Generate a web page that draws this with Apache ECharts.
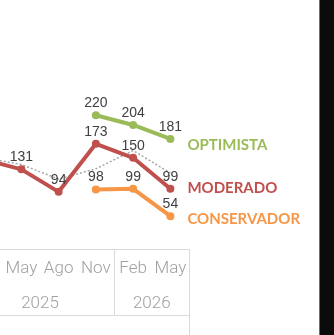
<!DOCTYPE html>
<html>
<head>
<meta charset="utf-8">
<script src="https://cdn.jsdelivr.net/npm/echarts@6/dist/echarts.min.js"></script>
<style>
html,body{margin:0;padding:0;background:#fff;}
#c{position:absolute;left:0;top:0;width:334px;height:335px;}
#band{position:absolute;left:319px;top:0;width:15px;height:335px;background:#0b0b0b;border-left:1px solid #6e6e6e;box-sizing:border-box;}
</style>
</head>
<body>
<div id="c"></div>
<div id="band"></div>
<script>
// Categories (quarterly) – first one lies off-canvas to the left
const months = ['Feb', 'May', 'Ago', 'Nov', 'Feb', 'May'];
const years = ['2025', '2026'];
const yearSizes = [4, 2];

// Series values
const moderado    = [147, 131, 94, 173, 150, 99];
const optimista   = [null, null, null, 220, 204, 181];
const conservador = [null, null, null, 98, 99, 54];
const referencia  = [150, 139, 115, 132, 162, 125];

// Build group boundaries / centres for the year level of the axis
const bounds = [0];
yearSizes.forEach(s => bounds.push(bounds[bounds.length - 1] + s));
const centres = yearSizes.map((s, i) => bounds[i] + s / 2);
const yearOf = {};
centres.forEach((c, i) => { yearOf[c] = years[i]; });

const labelFont = {fontFamily: 'Roboto', fontWeight: 300, fontSize: 17, color: '#a0a0a0'};
const gridLine = {color: '#d9d9d9', width: 1};

function lineSeries(name, data, color, dy) {
  return {
    name: name, type: 'line', data: data, xAxisIndex: 0, yAxisIndex: 0,
    symbol: 'circle', symbolSize: 8, showSymbol: true,
    lineStyle: {color: color, width: 4},
    itemStyle: {color: color},
    label: {show: true, position: 'top', distance: 1, fontFamily: 'Liberation Sans, Arial, sans-serif',
            fontSize: 14, color: '#404040'},
    endLabel: {show: true, formatter: name, distance: 17, offset: [0, dy],
               fontFamily: 'Lato', fontWeight: 'bold', fontSize: 15, color: color},
    emphasis: {disabled: true},
    z: 3
  };
}

const chart = echarts.init(document.getElementById('c'), null, {renderer: 'canvas'});
chart.setOption({
  animation: false,
  backgroundColor: '#ffffff',
  grid: {left: -34.5, width: 223.5, top: 66.6, bottom: 86, containLabel: false, outerBoundsMode: 'none'},
  xAxis: [
    {
      type: 'category', data: months, position: 'bottom', boundaryGap: true,
      axisLine: {show: true, lineStyle: gridLine},
      axisTick: {show: false},
      axisLabel: Object.assign({interval: 0, margin: 11}, labelFont),
      splitLine: {show: false}
    },
    {
      type: 'value', min: 0, max: bounds[bounds.length - 1], position: 'bottom', offset: 0,
      axisLine: {show: false},
      axisTick: {show: true, customValues: bounds, length: 66, lineStyle: gridLine},
      axisLabel: Object.assign({customValues: centres, margin: 46, formatter: v => yearOf[v] || ''}, labelFont),
      splitLine: {show: false}
    },
    {
      type: 'value', min: 0, max: bounds[bounds.length - 1], position: 'bottom', offset: 66,
      axisLine: {show: true, lineStyle: gridLine},
      axisTick: {show: true, customValues: [bounds[bounds.length - 1]], length: 25, lineStyle: gridLine},
      axisLabel: {show: false},
      splitLine: {show: false}
    }
  ],
  yAxis: {type: 'value', min: 0, max: 300, show: false, splitLine: {show: false}},
  series: [
    {
      name: 'ref', type: 'line', data: referencia, xAxisIndex: 0, yAxisIndex: 0,
      showSymbol: false, symbol: 'none',
      lineStyle: {color: '#a6a6a6', width: 1.5, type: [2, 2]},
      emphasis: {disabled: true}, z: 2
    },
    lineSeries('OPTIMISTA', optimista, '#9bbb59', 6),
    lineSeries('MODERADO', moderado, '#c0504d', -1),
    lineSeries('CONSERVADOR', conservador, '#f79646', 3)
  ]
});
</script>
</body>
</html>
